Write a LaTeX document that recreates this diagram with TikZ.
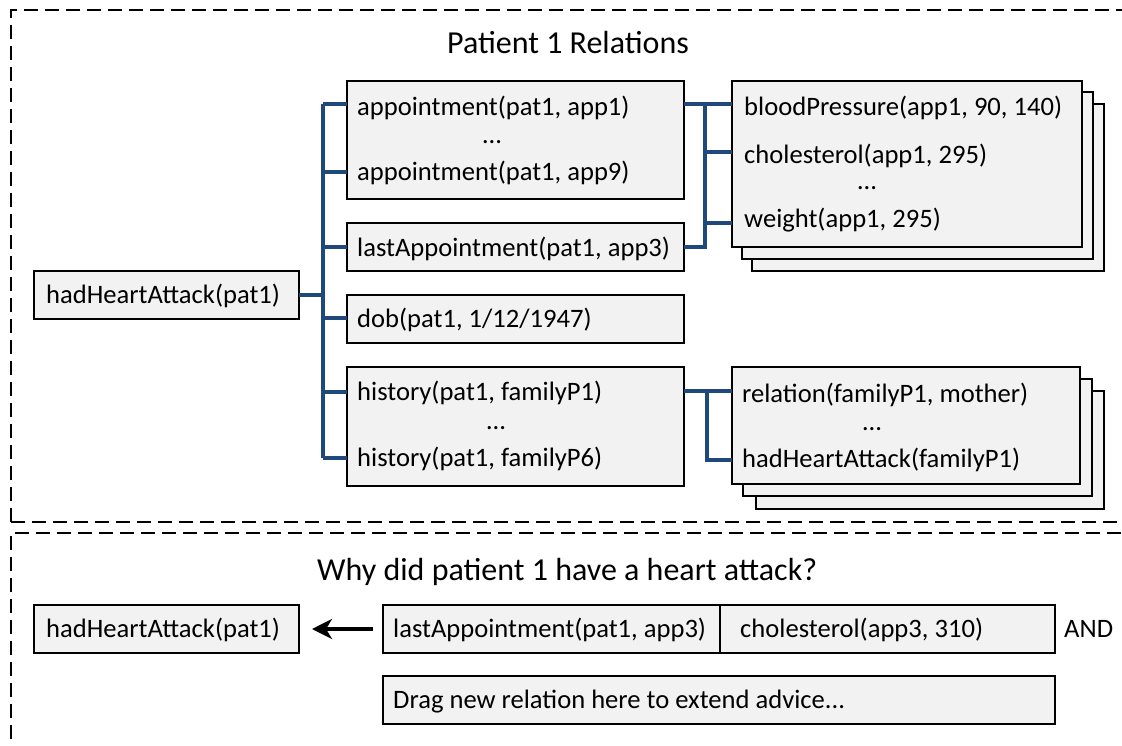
\documentclass[tikz,border=0pt]{standalone}
\usepackage{fontspec}
\setmainfont{Carlito}
\usetikzlibrary{arrows.meta}
\definecolor{boxfill}{HTML}{F2F2F2}
\definecolor{linkblue}{RGB}{31,73,125}
\begin{document}
\begin{tikzpicture}[x=1pt,y=-1pt,
  box/.style={draw=black, line width=2pt, fill=boxfill, rectangle,
    inner sep=0pt, outer sep=0pt, anchor=north west},
  txt/.style={anchor=base west, inner sep=0pt, font=\fontsize{26.6}{30}\selectfont},
  dots/.style={anchor=base, inner sep=0pt, font=\fontsize{26.6}{30}\selectfont},
  heading/.style={inner sep=0pt, font=\fontsize{32}{36}\selectfont},
  link/.style={draw=linkblue, line width=3.6pt},
  frame/.style={draw=black, line width=2.2pt, dash pattern=on 14pt off 7pt},
]
\useasboundingbox (0,0) rectangle (1122,745);
\clip (0,0) rectangle (1122,745);

% dashed panels
\draw[frame] (11,522) -- (11,10) -- (1140,10);
\draw[frame] (11,522) -- (1140,522);
\draw[frame] (11,760) -- (11,533) -- (1140,533);

% ---------- patient relations ----------
\node[heading, anchor=base] (title) at (568,53) {Patient 1 Relations};

\node[box, minimum width=265pt, minimum height=48pt] (hha) at (34,271) {};
\node[txt] (hhaT) at (46,303.5) {hadHeartAttack(pat1)};

\node[box, minimum width=337pt, minimum height=118pt] (appt) at (347,81) {};
\node[txt] (apptA) at (357,115.5) {appointment(pat1, app1)};
\node[dots] (apptD) at (492,143) {…};
\node[txt] (apptB) at (357,180.5) {appointment(pat1, app9)};

\node[box, minimum width=337pt, minimum height=48pt] (last) at (347,223) {};
\node[txt] (lastT) at (357,256) {lastAppointment(pat1, app3)};

\node[box, minimum width=337pt, minimum height=48pt] (dob) at (347,295) {};
\node[txt] (dobT) at (357,327.5) {dob(pat1, 1/12/1947)};

\node[box, minimum width=337pt, minimum height=119pt] (hist) at (347,367) {};
\node[txt] (histA) at (357,400.5) {history(pat1, familyP1)};
\node[dots] (histD) at (496,429) {…};
\node[txt] (histB) at (357,466.5) {history(pat1, familyP6)};

% stacked appointment facts
\node[box, minimum width=352pt, minimum height=167pt] (appC) at (752,104) {};
\node[box, minimum width=351pt, minimum height=167pt] (appB) at (742,92) {};
\node[box, minimum width=350pt, minimum height=166pt] (appF) at (732,81) {};
\node[txt] (bp) at (744,115.5) {bloodPressure(app1, 90, 140)};
\node[txt] (chol) at (744,163) {cholesterol(app1, 295)};
\node[dots] (appD) at (867,189) {…};
\node[txt] (wt) at (744,227) {weight(app1, 295)};

% stacked family facts
\node[box, minimum width=348pt, minimum height=118pt] (famC) at (756,391) {};
\node[box, minimum width=349pt, minimum height=117pt] (famB) at (743,379) {};
\node[box, minimum width=348pt, minimum height=117pt] (famF) at (732,367) {};
\node[txt] (rel) at (742,402) {relation(familyP1, mother)};
\node[dots] (famD) at (872,430.5) {…};
\node[txt] (famH) at (742,467) {hadHeartAttack(familyP1)};

% tree connectors
\coordinate (j1) at (323,104);
\coordinate (j2) at (323,172);
\coordinate (j3) at (323,247);
\coordinate (j4) at (323,318);
\coordinate (j5) at (323,392);
\coordinate (j6) at (323,458);
\draw[link] (j1) -- (j6);
\draw[link] (hha.east) -- (hha.east -| j1);
\draw[link] (j1) -- (j1 -| appt.west);
\draw[link] (j2) -- (j2 -| appt.west);
\draw[link] (j3) -- (j3 -| last.west);
\draw[link] (j4) -- (j4 -| dob.west);
\draw[link] (j5) -- (j5 -| hist.west);
\draw[link] (j6) -- (j6 -| hist.west);

\coordinate (k0) at (705,104);
\coordinate (k1) at (705,152);
\coordinate (k2) at (705,223);
\coordinate (k3) at (705,247);
\draw[link] (k0 -| appt.east) -- (k0 -| appF.west);
\draw[link] (k0) -- (k3) -- (k3 -| last.east);
\draw[link] (k1) -- (k1 -| appF.west);
\draw[link] (k2) -- (k2 -| appF.west);

\coordinate (f0) at (707,391);
\coordinate (f1) at (707,460);
\draw[link] (f0 -| hist.east) -- (f0 -| famF.west);
\draw[link] (f0) -- (f1) -- (f1 -| famF.west);

% ---------- explanation ----------
\node[heading, anchor=base west] (why) at (317,580) {Why did patient 1 have a heart attack?};

\node[box, minimum width=265pt, minimum height=48pt] (hhaB) at (34,605) {};
\node[txt] (hhaBT) at (46,637.5) {hadHeartAttack(pat1)};

\node[box, minimum width=337pt, minimum height=48pt] (lastB) at (383,605) {};
\node[txt] (lastBT) at (393,637.5) {lastAppointment(pat1, app3)};
\node[box, minimum width=335pt, minimum height=48pt] (cholB) at (720,605) {};
\node[txt] (cholBT) at (740,637.5) {cholesterol(app3, 310)};
\node[txt] (andT) at (1064,637.5) {AND};

\node[box, minimum width=672pt, minimum height=48pt] (drag) at (383,676) {};
\node[txt] (dragT) at (393,708) {Drag new relation here to extend advice...};

\draw[line width=3.5pt, -{Stealth[length=20pt,width=20pt,inset=6pt]}]
  ([xshift=-10pt]lastB.west) -- ([xshift=13pt]hhaB.east);
\end{tikzpicture}
\end{document}
